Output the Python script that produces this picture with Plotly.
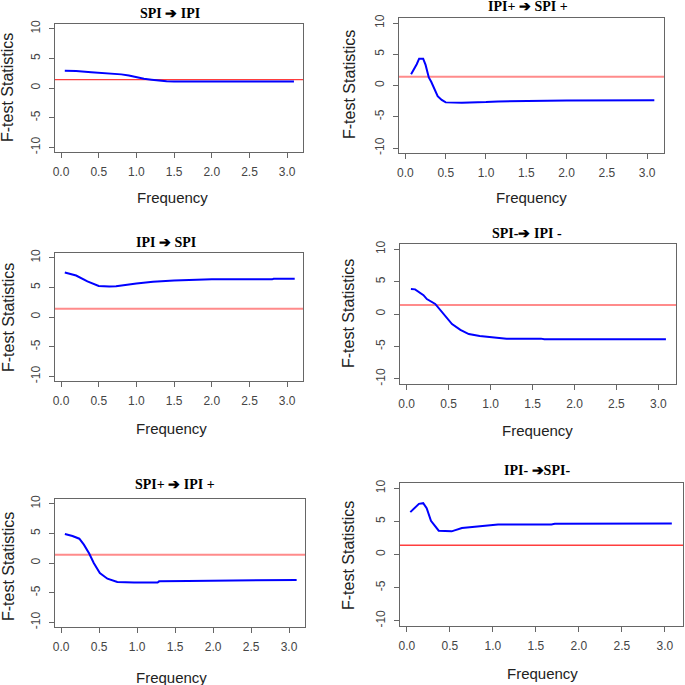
import plotly.graph_objects as go

W = H = 685

# ---- data ----
titles = ["SPI ➔ IPI", "IPI+ ➔ SPI +", "IPI ➔ SPI", "SPI-➔ IPI -", "SPI+ ➔ IPI +", "IPI- ➔SPI-"]

freq_1 = [0.05, 0.2, 0.4, 0.6, 0.8, 0.9, 1.0, 1.1, 1.2, 1.3, 1.4, 1.5, 2.0, 2.5, 3.09]
stat_1 = [2.9, 2.85, 2.65, 2.5, 2.3, 2.1, 1.8, 1.55, 1.4, 1.25, 1.15, 1.1, 1.1, 1.1, 1.1]

freq_2 = [0.07, 0.1, 0.14, 0.17, 0.22, 0.25, 0.29, 0.32, 0.36, 0.40, 0.45, 0.50, 0.7, 0.88, 1.0, 1.15, 1.6, 2.0, 3.09]
stat_2 = [1.8, 2.4, 3.4, 4.3, 4.3, 3.3, 1.3, 0.6, -0.5, -1.7, -2.3, -2.7, -2.75, -2.75, -2.65, -2.55, -2.45, -2.4, -2.35]

freq_3 = [0.05, 0.2, 0.35, 0.5, 0.64, 0.73, 1.0, 1.22, 1.5, 2.0, 2.8, 2.82, 3.1]
stat_3 = [7.5, 7.0, 6.0, 5.25, 5.15, 5.2, 5.65, 5.95, 6.15, 6.35, 6.35, 6.45, 6.45]

freq_4 = [0.05, 0.1, 0.2, 0.24, 0.34, 0.4, 0.48, 0.54, 0.64, 0.74, 0.87, 1.0, 1.19, 1.6, 1.64, 3.09]
stat_4 = [3.85, 3.8, 2.9, 2.3, 1.55, 0.6, -0.65, -1.55, -2.45, -3.1, -3.4, -3.6, -3.8, -3.8, -3.9, -3.9]

freq_5 = [0.05, 0.15, 0.24, 0.3, 0.37, 0.43, 0.51, 0.61, 0.74, 0.96, 1.27, 1.29, 1.67, 2.64, 3.1]
stat_5 = [4.9, 4.55, 4.1, 3.1, 1.6, 0.0, -1.7, -2.65, -3.2, -3.3, -3.3, -3.1, -3.05, -2.95, -2.85]

freq_6 = [0.04, 0.14, 0.19, 0.23, 0.28, 0.37, 0.52, 0.64, 0.79, 0.95, 1.06, 1.68, 1.72, 3.08]
stat_6 = [6.4, 7.65, 7.75, 7.0, 5.1, 3.6, 3.5, 4.0, 4.2, 4.45, 4.55, 4.55, 4.65, 4.7]

critical_value = 1.4

x_ticks = [0.0, 0.5, 1.0, 1.5, 2.0, 2.5, 3.0]
x_tick_labels = ["0.0", "0.5", "1.0", "1.5", "2.0", "2.5", "3.0"]
y_ticks = [-10, -5, 0, 5, 10]
y_tick_labels = ["-10", "-5", "0", "5", "10"]

series = [(freq_1, stat_1), (freq_2, stat_2), (freq_3, stat_3),
          (freq_4, stat_4), (freq_5, stat_5), (freq_6, stat_6)]

# ---- layout (pixel boxes) ----
boxes = [(55, 303, 24, 152), (399, 664, 18, 153),
         (55, 303, 253, 381), (400, 676, 244, 384),
         (55, 305, 499, 627), (400, 683, 483, 626)]
title_pos = [(170, 13), (528, 7), (166, 242), (527, 233), (175, 484), (537, 470)]
ytitle_pos = [(8, 88), (350, 85), (8, 318), (348, 313), (8, 567), (348, 555)]
xtitle_pos = [(172, 197), (531, 197), (171, 428), (537, 430), (171, 677), (542, 673)]
red_styles = [("rgba(255,40,40,0.9)", 1.3), ("rgba(255,90,90,0.7)", 2),
              ("rgba(255,90,90,0.7)", 2), ("rgba(255,90,90,0.7)", 2),
              ("rgba(255,90,90,0.7)", 2), ("rgba(255,40,40,0.9)", 1.3)]

fig = go.Figure()
layout = dict(width=W, height=H, margin=dict(l=0, r=0, t=0, b=0),
              paper_bgcolor="white", plot_bgcolor="white", showlegend=False)
shapes = []
annotations = []
axfont = dict(family="Liberation Sans, Arial", size=12, color="#444")

for i, ((fx, fy), (x0, x1, y0, y1)) in enumerate(zip(series, boxes)):
    n = i + 1
    xa = "x" if n == 1 else f"x{n}"
    ya = "y" if n == 1 else f"y{n}"
    fig.add_trace(go.Scatter(x=fx, y=fy, mode="lines",
                             line=dict(color="#0000ff", width=2),
                             xaxis=xa, yaxis=ya, hoverinfo="skip"))
    common = dict(showline=True, linecolor="#666", linewidth=1, mirror=True,
                  ticks="outside", ticklen=5, tickcolor="#666", tickwidth=1,
                  showgrid=False, zeroline=False, automargin=False, tickfont=axfont,
                  ticklabelstandoff=4)
    layout["xaxis" if n == 1 else f"xaxis{n}"] = dict(
        domain=[x0 / W, x1 / W], anchor=ya, range=[-0.08, 3.21],
        tickvals=x_ticks, ticktext=x_tick_labels, **common)
    layout["yaxis" if n == 1 else f"yaxis{n}"] = dict(
        domain=[1 - y1 / H, 1 - y0 / H], anchor=xa, range=[-10.8, 10.8],
        tickvals=y_ticks, ticktext=y_tick_labels, tickangle=-90, **common)
    col, wid = red_styles[i]
    shapes.append(dict(type="line", xref=f"{xa} domain", yref=ya,
                       x0=0, x1=1, y0=critical_value, y1=critical_value,
                       line=dict(color=col, width=wid), layer="below"))
    tx, ty = title_pos[i]
    annotations.append(dict(text="<b>" + titles[i] + "</b>", x=tx / W, y=1 - ty / H,
                            xref="paper", yref="paper", showarrow=False,
                            xanchor="center", yanchor="middle",
                            font=dict(family="Liberation Serif, Times New Roman", size=14, color="black")))
    yx, yy = ytitle_pos[i]
    annotations.append(dict(text="F-test Statistics", x=yx / W, y=1 - yy / H,
                            xref="paper", yref="paper", showarrow=False, textangle=-90,
                            xanchor="center", yanchor="middle",
                            font=dict(family="Liberation Sans, Arial", size=16, color="#222")))
    xx, xy = xtitle_pos[i]
    annotations.append(dict(text="Frequency", x=xx / W, y=1 - xy / H,
                            xref="paper", yref="paper", showarrow=False,
                            xanchor="center", yanchor="middle",
                            font=dict(family="Liberation Sans, Arial", size=15, color="#222")))

layout["shapes"] = shapes
layout["annotations"] = annotations
fig.update_layout(**layout)
fig.write_html("out.html", config={"displayModeBar": False},
               post_script="document.body.style.margin='0px';document.body.style.overflow='hidden';")
